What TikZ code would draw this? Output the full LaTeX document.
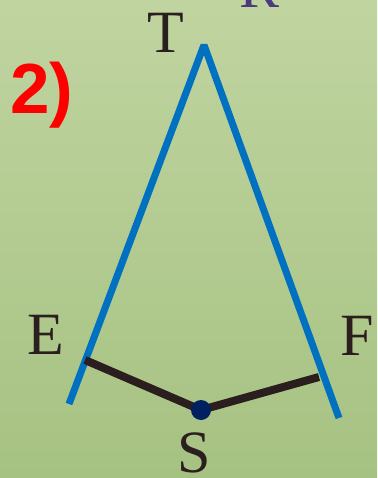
\documentclass[tikz,border=0pt]{standalone}
\usepackage{fontspec}
\setmainfont{Liberation Serif}
\newfontfamily\labelsans{Liberation Sans}
\usepackage{tikz}
\definecolor{bgtop}{HTML}{C0D4A0}
\definecolor{bgbot}{HTML}{A6C282}
\definecolor{sideblue}{HTML}{0070C0}
\definecolor{footdark}{HTML}{2B1E1E}
\definecolor{dotnavy}{HTML}{002060}
\definecolor{rviolet}{HTML}{4B3A80}
\tikzset{
  letter/.style={anchor=base, inner sep=0pt, text=footdark,
    font=\fontsize{60}{60}\selectfont},
  side/.style={sideblue, line width=7pt, line join=bevel},
  foot/.style={footdark, line width=8pt}
}

\begin{document}
\begin{tikzpicture}[x=1pt, y=-1pt]
    \useasboundingbox (0,0) rectangle (377,478);
    \shade[top color=bgtop, bottom color=bgbot] (0,0) rectangle (377,478);
    % the two sides from the apex
    \coordinate (apex) at (204,45);
    \coordinate (lend) at (69,404);
    \coordinate (rend) at (339,418);
    \draw[side] (lend) -- (apex) -- (rend);
    % feet on the sides
    \coordinate (e) at (85,360);
    \coordinate (s) at (201,410);
    \coordinate (f) at (319,377);
    \draw[foot] (e) -- (s) -- (f);
    \fill[dotnavy] (s) circle (10pt);
    % labels
    \node[letter] (T) at (166,53) {T};
    \node[letter, text=rviolet] (R) at (260,8) {R};
    \node[letter] (E) at (46,354) {E};
    \node[letter] (F) at (357,355) {F};
    \node[letter] (S) at (194,472) {S};
    \node[anchor=base west, inner sep=0pt, text=red,
      font=\labelsans\bfseries\fontsize{71}{71}\selectfont] (num) at (10,114) {2)};
\end{tikzpicture}
\end{document}
